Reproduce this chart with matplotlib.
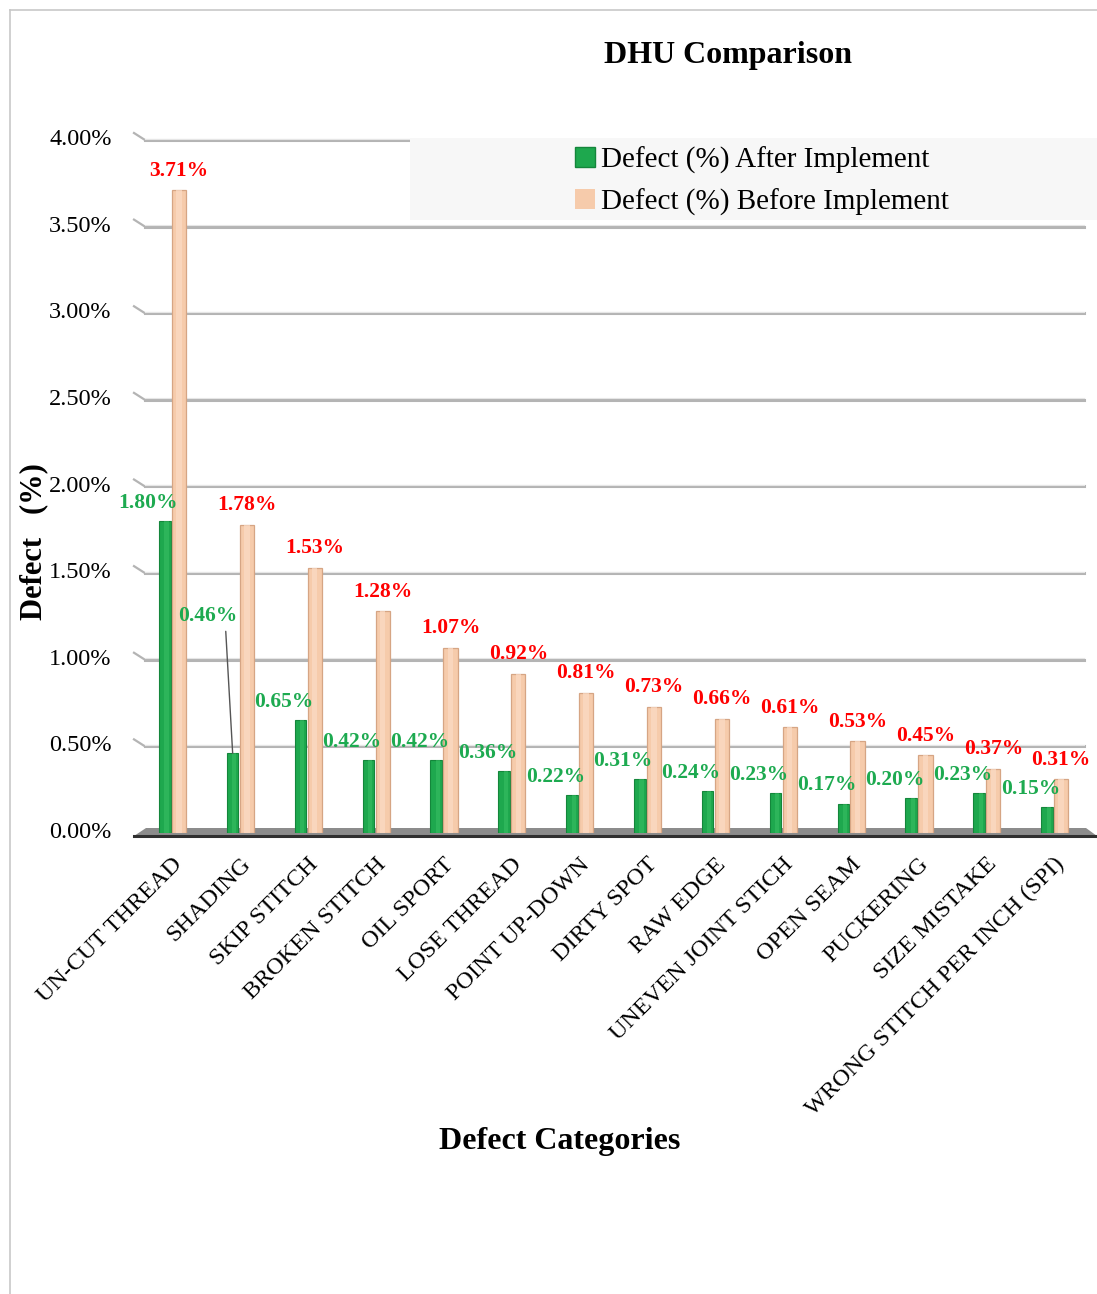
import numpy as np
import matplotlib.pyplot as plt
import matplotlib.transforms as mtransforms
from matplotlib.patches import Patch, Rectangle, Polygon
from matplotlib.lines import Line2D

categories = ['UN-CUT THREAD', 'SHADING', 'SKIP STITCH', 'BROKEN STITCH', 'OIL SPORT',
              'LOSE THREAD', 'POINT UP-DOWN', 'DIRTY SPOT', 'RAW EDGE', 'UNEVEN JOINT STICH',
              'OPEN SEAM', 'PUCKERING', 'SIZE MISTAKE', 'WRONG STITCH PER INCH (SPI)']
after = [1.80, 0.46, 0.65, 0.42, 0.42, 0.36, 0.22, 0.31, 0.24, 0.23, 0.17, 0.20, 0.23, 0.15]
before = [3.71, 1.78, 1.53, 1.28, 1.07, 0.92, 0.81, 0.73, 0.66, 0.61, 0.53, 0.45, 0.37, 0.31]
yticks = [0.0, 0.5, 1.0, 1.5, 2.0, 2.5, 3.0, 3.5, 4.0]

plt.rcParams['font.family'] = ['Liberation Serif', 'DejaVu Serif']

W, H = 1097, 1294
fig = plt.figure(figsize=(W / 100, H / 100), dpi=100)

def fx(px):
    return px / W

def fy(py):
    return 1 - py / H

# outer frame
fig.add_artist(Line2D([fx(10), 1], [fy(10), fy(10)], color='#c8c8c8', lw=1.2))
fig.add_artist(Line2D([fx(10), fx(10)], [fy(10), 0], color='#c8c8c8', lw=1.2))

ax_l, ax_r, ax_t, ax_b = 138, 1088, 140, 833
ax = fig.add_axes([fx(ax_l), fy(ax_b), fx(ax_r - ax_l), fy(ax_t) - fy(ax_b)])
ax.set_zorder(1)
ax.patch.set_visible(False)
ax.set_xlim(-0.5, len(categories) - 0.5)
ax.set_ylim(0, 4.0)
for s in ax.spines.values():
    s.set_visible(False)

# back wall gridlines with a small 3-D stub on the left
for v in yticks[1:]:
    py = ax_b - v / 4.0 * (ax_b - ax_t)
    fig.add_artist(Line2D([fx(ax_l + 7), fx(1084)], [fy(py), fy(py)], color='#b4b4b4', lw=2.2, zorder=0.5))
    fig.add_artist(Line2D([fx(ax_l + 7), fx(1084)], [fy(py - 1.5), fy(py - 1.5)], color='#e6e6e6', lw=0.8, zorder=0.6))
    fig.add_artist(Line2D([fx(ax_l - 4), fx(ax_l + 7)], [fy(py - 7), fy(py)], color='#b4b4b4', lw=1.6, zorder=0.5))

# floor
fig.add_artist(Polygon([[fx(ax_l - 4), fy(ax_b + 3)], [fx(1097), fy(ax_b + 3)],
                        [fx(1086), fy(ax_b - 5)], [fx(ax_l + 8), fy(ax_b - 5)]],
                       closed=True, facecolor='#8c8c8c', edgecolor='none', zorder=0.7))
fig.add_artist(Line2D([fx(ax_l - 4), fx(1097)], [fy(ax_b + 3), fy(ax_b + 3)], color='#303030', lw=2.2, zorder=0.8))

x = np.arange(len(categories))
green = '#1ea84e'
peach = '#f6cbab'
ax.bar(x - 0.105, after, width=0.17, color=green, edgecolor='#14863b', linewidth=0.8, zorder=3)
ax.bar(x + 0.105, before, width=0.21, color=peach, edgecolor='#d6a584', linewidth=0.9, zorder=3)
# soft highlight down the middle of each bar
ax.bar(x - 0.08, after, width=0.06, color='#3cc267', linewidth=0, zorder=3.1, alpha=0.5)
ax.bar(x + 0.105, before, width=0.08, color='#fbdcc6', linewidth=0, zorder=3.1, alpha=0.7)

lab_fs = 15.5
for i, v in enumerate(before):
    ax.annotate(f'{v:.2f}%', (x[i] + 0.105, v), xytext=(0, 14), textcoords='offset points',
                ha='center', va='center', color='#ff0000', fontsize=lab_fs, fontweight='bold',
                annotation_clip=False, zorder=5)
for i, v in enumerate(after):
    if i == 1:
        ax.annotate(f'{v:.2f}%', (x[i] - 0.105, v), xytext=(-18, 99), textcoords='offset points',
                    ha='center', va='center', color='#1daa50', fontsize=lab_fs, fontweight='bold',
                    arrowprops=dict(arrowstyle='-', color='#555555', lw=1, shrinkA=2, shrinkB=0,
                                    relpos=(0.8, 0.0)),
                    annotation_clip=False, zorder=5)
    else:
        ax.annotate(f'{v:.2f}%', (x[i] - 0.105, v), xytext=(-12, 13), textcoords='offset points',
                    ha='center', va='center', color='#1daa50', fontsize=lab_fs, fontweight='bold',
                    annotation_clip=False, zorder=5)

ax.set_yticks(yticks)
ax.set_yticklabels([f'{v:.2f}%' for v in yticks], fontsize=17.5)
ax.tick_params(axis='y', length=0, pad=19)
shift = mtransforms.ScaledTranslation(0, 3 / 100, fig.dpi_scale_trans)
for lbl in ax.get_yticklabels():
    lbl.set_transform(lbl.get_transform() + shift)
ax.set_xticks(x)
ax.set_xticklabels(categories, rotation=45, ha='right', va='top', rotation_mode='anchor', fontsize=17.5)
ax.tick_params(axis='x', length=0, pad=15)

ax.set_ylabel('Defect   (%)', fontsize=22, fontweight='bold')
ax.yaxis.set_label_coords(-0.094, 0.42)
fig.text(fx(560), fy(1141), 'Defect Categories', fontsize=23, fontweight='bold', ha='center', va='center')
fig.text(fx(728), fy(55), 'DHU Comparison', fontsize=23, fontweight='bold', ha='center', va='center')

# legend panel
fig.add_artist(Rectangle((fx(410), fy(220)), fx(1097 - 410), fy(138) - fy(220),
                         facecolor='#f7f7f7', edgecolor='none', zorder=4))
handles = [Patch(facecolor=green, edgecolor='#14863b', label='Defect (%) After Implement'),
           Patch(facecolor=peach, edgecolor='none', label='Defect (%) Before Implement')]
leg = fig.legend(handles=handles, loc='center', bbox_to_anchor=(fx(762), fy(181)), frameon=False,
                 fontsize=21, handlelength=0.7, handleheight=0.7, handletextpad=0.2, labelspacing=0.5)
leg.set_zorder(5)

fig.savefig('out.png', dpi=100)
